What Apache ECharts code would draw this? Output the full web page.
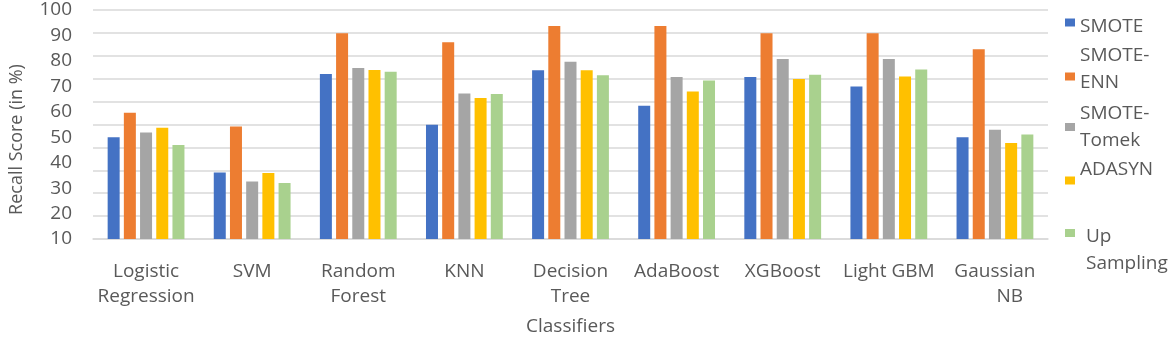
<!DOCTYPE html>
<html>
<head>
<meta charset="utf-8">
<script src="https://cdn.jsdelivr.net/npm/echarts@6/dist/echarts.min.js"></script>
<style>
  html, body { margin: 0; padding: 0; background: #fff; }
  #chart { width: 1170px; height: 341px; }
</style>
</head>
<body>
<div id="chart"></div>
<script>
const classifiers = ['Logistic\nRegression', 'SVM', 'Random\nForest', 'KNN', 'Decision\nTree',
  'AdaBoost', 'XGBoost', 'Light GBM', 'Gaussian\n      NB'];
const methods = ['SMOTE', 'SMOTE-ENN', 'SMOTE-Tomek', 'ADASYN', 'Up Sampling'];

const smote      = [50.0, 36.1, 74.8, 54.9, 76.3, 62.4, 73.7, 69.9, 50.0];
const smoteEnn   = [59.6, 54.2, 90.9, 87.3, 93.7, 93.7, 90.9, 90.9, 84.6];
const smoteTomek = [51.9, 32.6, 77.2, 67.2, 79.7, 73.7, 80.7, 80.7, 52.9];
const adasyn     = [53.7, 35.9, 76.4, 65.4, 76.3, 68.0, 72.9, 73.9, 47.7];
const upSampling = [46.9, 32.0, 75.7, 67.0, 74.4, 72.3, 74.6, 76.6, 51.1];

const yTicksMin = 10, yTicksMax = 100;

const colors = ['#4472C4', '#ED7D31', '#A5A5A5', '#FFC000', '#A9D18E'];
const values = [smote, smoteEnn, smoteTomek, adasyn, upSampling];

const chart = echarts.init(document.getElementById('chart'));
const textColor = '#595959';
const font = 'Open Sans';

// legend text wraps like the Excel original; invisible spacer lines push the
// text up/down against the marker. one legend per entry so each can be placed
const legendLayout = [
  { name: 'SMOTE', top: 8, text: '{s8|.}\n{t|SMOTE}' },
  { name: 'SMOTE-ENN', top: 46, text: '{t|SMOTE-}\n{t|ENN}\n{s15|.}' },
  { name: 'SMOTE-Tomek', top: 104, text: '{t|SMOTE-}\n{t|Tomek}' },
  { name: 'ADASYN', top: 160, text: '{t|ADASYN}\n{s22|.}' },
  { name: 'Up Sampling', top: 205, text: '{s35|.}\n{u|Up}\n{u|Sampling}' }
];

const spacer = h => ({ fontSize: 2, lineHeight: h, color: 'rgba(0,0,0,0)' });
const legendRich = {
  t: { color: textColor, fontFamily: font, fontSize: 19, lineHeight: 27 },
  u: { color: textColor, fontFamily: font, fontSize: 19, lineHeight: 27, padding: [0, 0, 0, 6] },
  s8: spacer(8),
  s15: spacer(15),
  s22: spacer(22),
  s35: spacer(35)
};

const option = {
  animation: false,
  color: colors,
  grid: { left: 93, right: 122, top: 10, bottom: 101 },
  legend: legendLayout.map(l => ({
    data: [l.name],
    left: 1065,
    top: l.top,
    padding: 0,
    itemWidth: 10,
    itemHeight: 8,
    icon: 'rect',
    formatter: () => l.text,
    textStyle: { rich: legendRich }
  })),
  xAxis: {
    type: 'category',
    data: classifiers,
    name: 'Classifiers',
    nameLocation: 'middle',
    nameGap: 78,
    nameTextStyle: { color: textColor, fontFamily: font, fontSize: 19 },
    axisLine: { lineStyle: { color: '#d9d9d9', width: 1.5 } },
    axisTick: { show: false },
    axisLabel: {
      color: textColor, fontFamily: font, fontSize: 19, lineHeight: 25,
      margin: 20, interval: 0
    }
  },
  yAxis: [
    {
      type: 'value',
      min: yTicksMin,
      max: yTicksMax,
      interval: 10,
      name: 'Recall Score (in %)',
      nameLocation: 'middle',
      nameGap: 67,
      nameTextStyle: {
        color: textColor, fontFamily: font, fontSize: 18,
        padding: [0, 30, 0, 0]
      },
      axisLine: { show: false },
      axisTick: { show: false },
      splitLine: { show: false },
      axisLabel: { color: textColor, fontFamily: font, fontSize: 19, margin: 21 }
    },
    {
      // gridlines only
      type: 'value',
      min: 0,
      max: 100,
      interval: 10,
      axisLine: { show: false },
      axisTick: { show: false },
      axisLabel: { show: false },
      splitLine: { lineStyle: { color: '#d9d9d9', width: 1.5 } }
    }
  ],
  series: methods.map((m, i) => ({
    name: m,
    type: 'bar',
    yAxisIndex: 0,
    barWidth: 12,
    barGap: '35%',
    data: values[i]
  }))
};

chart.setOption(option);
</script>
</body>
</html>
